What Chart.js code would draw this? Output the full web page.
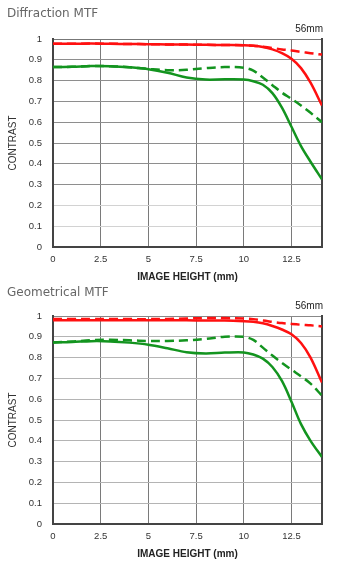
<!DOCTYPE html>
<html><head><meta charset="utf-8">
<script src="https://cdn.jsdelivr.net/npm/chart.js@4/dist/chart.umd.min.js"></script>
<style>
html,body{margin:0;padding:0;background:#fff;width:339px;height:568px;overflow:hidden;position:relative}
.wrap{position:absolute;left:0;width:339px;height:285px}
.title{position:absolute;left:7px;font:12px "DejaVu Sans";color:#666;line-height:14px;white-space:nowrap;z-index:2}
.fl{position:absolute;right:16px;font:10px "Liberation Sans";color:#222;line-height:12px;z-index:2}
</style></head><body>
<div class="wrap" style="top:0"><canvas id="c1" width="339" height="285"></canvas></div>
<div class="wrap" style="top:277px"><canvas id="c2" width="339" height="285"></canvas></div>
<div class="title" style="top:6px">Diffraction MTF</div>
<div class="fl" style="top:23px">56mm</div>
<div class="title" style="top:285px">Geometrical MTF</div>
<div class="fl" style="top:300px">56mm</div>
<script>
const imageHeight = [0, 1, 2, 3, 4, 5, 6, 7, 8, 9, 10, 10.5, 11, 11.5, 12, 12.5, 13, 13.5, 14.1];
const xTickLabels = ['0', '2.5', '5', '7.5', '10', '12.5'];
const yTickLabels = ['0', '0.1', '0.2', '0.3', '0.4', '0.5', '0.6', '0.7', '0.8', '0.9', '1'];

// Diffraction MTF
const diffRedSolid   = [0.977,0.977,0.978,0.977,0.976,0.975,0.974,0.973,0.972,0.971,0.970,0.968,0.962,0.950,0.932,0.905,0.860,0.790,0.680];
const diffRedDashed  = [0.977,0.977,0.978,0.977,0.976,0.975,0.974,0.973,0.972,0.971,0.970,0.968,0.963,0.957,0.950,0.945,0.938,0.932,0.925];
const diffGreenSolid = [0.865,0.866,0.870,0.869,0.864,0.855,0.838,0.815,0.805,0.806,0.805,0.797,0.780,0.740,0.670,0.578,0.485,0.410,0.325];
const diffGreenDashed= [0.865,0.866,0.870,0.869,0.864,0.856,0.850,0.852,0.860,0.865,0.862,0.848,0.815,0.778,0.742,0.712,0.680,0.645,0.600];

// Geometrical MTF
const geoRedSolid    = [0.980,0.980,0.980,0.980,0.980,0.980,0.979,0.979,0.978,0.978,0.975,0.972,0.965,0.952,0.935,0.912,0.870,0.800,0.680];
const geoRedDashed   = [0.985,0.985,0.985,0.985,0.985,0.985,0.986,0.988,0.990,0.990,0.988,0.985,0.978,0.972,0.966,0.962,0.958,0.955,0.950];
const geoGreenSolid  = [0.873,0.875,0.879,0.878,0.872,0.862,0.845,0.826,0.820,0.824,0.825,0.815,0.795,0.755,0.688,0.588,0.480,0.400,0.322];
const geoGreenDashed = [0.873,0.877,0.884,0.886,0.883,0.880,0.880,0.883,0.890,0.900,0.900,0.885,0.848,0.810,0.775,0.742,0.710,0.675,0.617];

const RED = '#ff1010', GREEN = '#13941f';

function pts(arr){ return imageHeight.map((x,i)=>({x:x, y:arr[i]})); }
function ds(arr,color,dashed){
  return {data:pts(arr), borderColor:color, borderWidth:2.5, borderDash: dashed?[9,5]:[],
    pointRadius:0, fill:false, cubicInterpolationMode:'default', tension:0.35};
}

function makeChart(id, series, hGridColor){
  new Chart(document.getElementById(id), {
    type:'line',
    data:{datasets:[
      ds(series[2],GREEN,false), ds(series[3],GREEN,true),
      ds(series[0],RED,false), ds(series[1],RED,true)
    ]},
    options:{
      responsive:false, animation:false, devicePixelRatio:1,
      layout:{padding:{top:39,right:17,left:0,bottom:0}},
      plugins:{legend:{display:false}, tooltip:{enabled:false}},
      scales:{
        x:{type:'linear', min:0, max:14.1,
          ticks:{stepSize:2.5, includeBounds:false, padding:7, color:'#333', maxRotation:0,
            font:{family:'Liberation Sans', size:9.5}, callback:(v,i)=>xTickLabels[i]},
          grid:{drawTicks:false, color:'#7a7a7a', lineWidth:1},
          border:{display:true, color:'#444', width:2},
          title:{display:true, text:'IMAGE HEIGHT (mm)', color:'#222',
            font:{family:'Liberation Sans', size:10, weight:'bold'}, padding:{top:0,bottom:2}},
          afterFit(s){ s.height = 38; }
        },
        y:{min:0, max:1,
          ticks:{stepSize:0.1, padding:11, color:'#333',
            font:{family:'Liberation Sans', size:9.5}, callback:(v,i)=>yTickLabels[i]},
          grid:{drawTicks:false, lineWidth:1, color:hGridColor},
          border:{display:true, color:'#444', width:2},
          title:{display:true, text:'CONTRAST', color:'#333',
            font:{family:'Liberation Sans', size:10}, padding:{top:7.5,bottom:0}},
          afterFit(s){ s.width = 53; }
        },
        y2:{position:'right', min:0, max:1, display:true,
          ticks:{display:false}, grid:{display:false, drawTicks:false},
          border:{display:true, color:'#444', width:2},
          afterFit(s){ s.width = 0; }
        }
      }
    }
  });
}

makeChart('c1', [diffRedSolid, diffRedDashed, diffGreenSolid, diffGreenDashed],
  ctx => ctx.tick && ctx.tick.value > 0.95 ? '#777' : (ctx.tick && ctx.tick.value < 0.25 ? '#d2d2d2' : '#8e8e8e'));
makeChart('c2', [geoRedSolid, geoRedDashed, geoGreenSolid, geoGreenDashed],
  ctx => ctx.tick && ctx.tick.value > 0.95 ? '#888' : '#b4b4b4');
</script>
</body></html>
